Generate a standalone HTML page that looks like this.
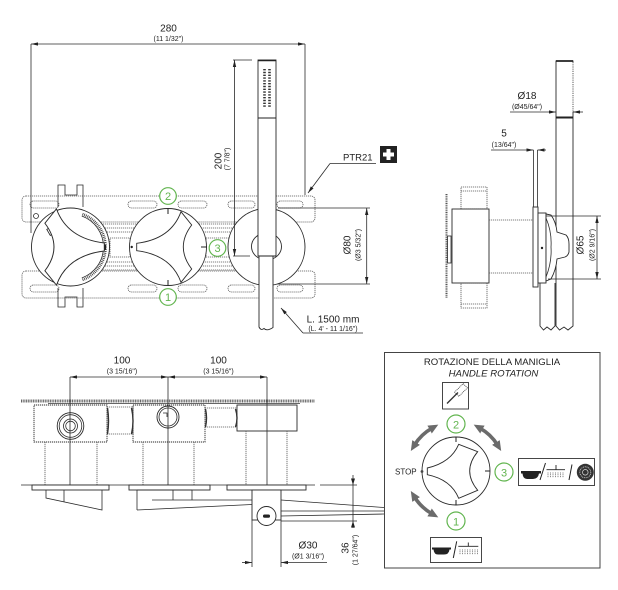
<!DOCTYPE html>
<html><head><meta charset="utf-8">
<style>
html,body{margin:0;padding:0;background:#fff;}
svg{display:block;}
text{font-family:"Liberation Sans",sans-serif;fill:#222;}
.s{fill:none;stroke:#2a2a2a;stroke-width:0.8}
.d{fill:none;stroke:#555;stroke-width:0.8;stroke-dasharray:1.2 0.8}
.w{fill:#fff;stroke:#2a2a2a;stroke-width:0.9}
.gc{fill:#fff;stroke:#62b54f;stroke-width:1.2}
.gt{fill:#62b54f;font-size:11px;text-anchor:middle}
.big{font-size:10px;text-anchor:middle}
.sm{font-size:7px;text-anchor:middle}
</style></head><body>
<svg width="618" height="590" viewBox="0 0 618 590" xmlns="http://www.w3.org/2000/svg">
<defs>
 <marker id="a" viewBox="0 0 10 6" refX="10" refY="3" markerWidth="7" markerHeight="4.2" orient="auto-start-reverse" markerUnits="userSpaceOnUse"><path d="M0,0.6 L10,3 L0,5.4z" fill="#222"/></marker>
 <marker id="g" viewBox="0 0 10 10" refX="3" refY="5" markerWidth="10" markerHeight="10" orient="auto-start-reverse" markerUnits="userSpaceOnUse"><path d="M0,0.5 L10,5 L0,9.5z" fill="#6b6b6b"/></marker>
</defs>

<!-- ============ FRONT VIEW ============ -->
<!-- 280 dim -->
<line x1="31" y1="44" x2="305" y2="44" class="s" marker-start="url(#a)" marker-end="url(#a)"/>
<line x1="31" y1="44" x2="31" y2="233" class="s"/>
<line x1="305" y1="44" x2="305" y2="195" class="s"/>
<text x="168.5" y="31.5" class="big">280</text>
<text x="168.5" y="41" class="sm">(11 1/32")</text>

<!-- plates -->
<rect x="22" y="196" width="293" height="26" rx="4" class="d"/>
<rect x="22" y="271" width="293" height="27" rx="4" class="d"/>
<g class="d">
<rect x="30" y="201" width="29" height="7" rx="3.5"/>
<rect x="128" y="201" width="29" height="7" rx="3.5"/>
<rect x="178" y="201" width="29" height="7" rx="3.5"/>
<rect x="228" y="201" width="27" height="7" rx="3.5"/>
<rect x="277" y="201" width="26" height="7" rx="3.5"/>
<rect x="30" y="285" width="29" height="7" rx="3.5"/>
<rect x="128" y="285" width="29" height="7" rx="3.5"/>
<rect x="178" y="285" width="29" height="7" rx="3.5"/>
<rect x="228" y="285" width="27" height="7" rx="3.5"/>
<rect x="277" y="285" width="26" height="7" rx="3.5"/>
<line x1="95" y1="224" x2="250" y2="224"/>
<line x1="95" y1="228" x2="250" y2="228"/>
<line x1="95" y1="232" x2="250" y2="232"/>
<line x1="95" y1="262" x2="250" y2="262"/>
<line x1="95" y1="266" x2="250" y2="266"/>
<line x1="95" y1="270" x2="250" y2="270"/>
<rect x="110" y="238" width="20" height="19"/>
<rect x="206" y="238" width="25" height="19"/>
</g>
<circle cx="36" cy="216" r="2.5" class="s"/>
<!-- brackets -->
<path d="M58,207 V185 H65 V195 H77 V185 H83 V207" class="s"/>
<path d="M58,288 V307 H65 V297 H77 V307 H83 V288" class="s"/>

<!-- circles -->
<circle cx="70.5" cy="247" r="39" class="w"/>
<circle cx="168" cy="247" r="38.5" class="w"/>
<circle cx="266.5" cy="247" r="38.5" class="w"/>

<!-- left handle scale -->
<path d="M82.5,214.1 A35,35 0 0 1 82.5,279.9" fill="none" stroke="#333" stroke-width="2.6" stroke-dasharray="0.8 1"/>
<path d="M81.8,216 A33,33 0 0 1 81.8,278" class="s" stroke-width="0.5"/>
<rect x="102" y="245" width="4" height="5" fill="#222"/>
<rect x="48" y="228" width="4" height="7" fill="none" stroke="#222" stroke-width="0.8" transform="rotate(-30 50 231)"/>
<!-- handles -->
<path transform="translate(168,247)" d="M-31.3,-3.7 Q3.15,-7.9 13,-35.3 L23.7,-22 Q6.9,0 23.7,22 L13,35.3 Q3.15,7.9 -31.3,3.7 Z" class="w" stroke-width="0.8"/>
<path transform="translate(70.5,247) rotate(180) scale(1.08)" d="M-31.3,-3.7 Q3.15,-7.9 13,-35.3 L23.7,-22 Q6.9,0 23.7,22 L13,35.3 Q3.15,7.9 -31.3,3.7 Z" class="w" stroke-width="0.8"/>
<!-- middle ticks -->
<g stroke="#222" stroke-width="1">
<line x1="168" y1="209" x2="168" y2="214"/>
<line x1="168" y1="280" x2="168" y2="285"/>
<line x1="201" y1="247" x2="207" y2="247"/>
</g>
<circle cx="131.7" cy="247" r="1.2" fill="#222"/>

<!-- green numbers front -->
<circle cx="168" cy="196" r="8.3" class="gc"/><text x="168" y="200" class="gt">2</text>
<circle cx="168" cy="297" r="8.3" class="gc"/><text x="168" y="301" class="gt">1</text>
<circle cx="217.5" cy="248" r="8.3" class="gc"/><text x="217.5" y="252" class="gt">3</text>

<!-- holder -->
<ellipse cx="266.5" cy="246.5" rx="15" ry="13.5" class="w"/>
<!-- hand shower -->
<rect x="258" y="60" width="18" height="196" class="w"/>
<line x1="258" y1="60.5" x2="276" y2="60.5" stroke="#222" stroke-width="1.6"/>
<line x1="258" y1="118" x2="276" y2="118" stroke="#222" stroke-width="1"/>
<g fill="none" stroke="#333" stroke-width="0.7">
<path d="M264.5,69 v38 M269.5,69 v38" stroke-dasharray="1.4 1.4" stroke-width="2.6"/>
</g>
<path d="M259,256 V327 q2,4 5,1.5 q3,3 9,-1 V256 Z" class="w"/>
<line x1="258" y1="256" x2="276" y2="256" stroke="#222" stroke-width="0.9"/>

<!-- 200 dim -->
<line x1="234.5" y1="60" x2="234.5" y2="256" class="s" marker-start="url(#a)" marker-end="url(#a)"/>
<line x1="233" y1="60" x2="252" y2="60" class="s"/>
<line x1="233" y1="256" x2="250" y2="256" class="s"/>
<text x="221.5" y="161" class="big" transform="rotate(-90 221.5 161)">200</text>
<text x="229.5" y="159" class="sm" transform="rotate(-90 229.5 159)">(7 7/8")</text>

<!-- PTR21 -->
<text x="343" y="160.5" font-size="9.5">PTR21</text>
<rect x="380" y="146" width="17" height="17" fill="#222"/>
<rect x="386.5" y="149" width="4" height="11" fill="#fff"/>
<rect x="383" y="152.5" width="11" height="4" fill="#fff"/>
<line x1="330" y1="163.5" x2="376" y2="163.5" class="s"/>
<line x1="330" y1="163.5" x2="308" y2="193" class="s" marker-end="url(#a)"/>

<!-- Ø80 dim -->
<line x1="278" y1="208" x2="370" y2="208" class="s"/>
<line x1="277" y1="284" x2="370" y2="284" class="s"/>
<line x1="366.7" y1="208" x2="366.7" y2="284" class="s" marker-start="url(#a)" marker-end="url(#a)"/>
<text x="350.5" y="245" class="big" transform="rotate(-90 350.5 245)">Ø80</text>
<text x="360.5" y="245" class="sm" transform="rotate(-90 360.5 245)">(Ø3 5/32")</text>

<!-- L. 1500 -->
<line x1="303" y1="333" x2="281" y2="308" class="s" marker-end="url(#a)"/>
<line x1="303" y1="333" x2="363" y2="333" class="s"/>
<text x="333" y="322.5" class="big">L. 1500 mm</text>
<text x="333" y="331" class="sm">(L. 4' - 11 1/16")</text>

<!-- ============ SIDE VIEW ============ -->
<line x1="446.5" y1="194" x2="446.5" y2="298" stroke="#555" stroke-width="2" stroke-dasharray="1 0.8"/>
<rect x="447.5" y="236" width="3.5" height="27" class="s"/>
<rect x="461" y="187" width="26" height="22" class="d"/>
<line x1="461" y1="191" x2="487" y2="191" class="d"/>
<rect x="461" y="283" width="26" height="25" class="d"/>
<line x1="461" y1="304" x2="487" y2="304" class="d"/>
<rect x="452" y="209" width="37" height="74" class="w" stroke-width="0.8"/>
<line x1="489" y1="220" x2="533" y2="220" class="d"/>
<line x1="489" y1="273" x2="533" y2="273" class="d"/>
<!-- hoses -->
<path d="M540,283 V326 L543.5,330 L547,327 L551,330 L555,326 V283" class="w" stroke-width="0.8"/>
<path d="M556,61 V326 L559.5,330 L564,327 L568,330 L573,326 V61 Z" class="w" stroke-width="0.8"/>
<line x1="556" y1="61" x2="573" y2="61" stroke="#222" stroke-width="1.8"/>
<line x1="556" y1="117.5" x2="573" y2="117.5" stroke="#222" stroke-width="2"/>
<line x1="573" y1="62" x2="573" y2="112" stroke="#fff" stroke-width="1"/>
<line x1="573" y1="62" x2="573" y2="112" stroke="#333" stroke-width="0.8" stroke-dasharray="1.2 1"/>
<!-- plate, escutcheon, handle -->
<rect x="533" y="207" width="5" height="80" class="w" stroke-width="0.8"/>
<rect x="538" y="213" width="8" height="70" class="w" stroke-width="0.8"/>
<path d="M546,214 L551,215 Q556,222 557,232 L566,235 Q569,238 569,244 L569,252 Q568,256 565,257 L557,259 Q556,270 551,279 L546,281 Z" class="w" stroke-width="0.8"/>
<path d="M546,218 Q552,232 551,247 Q552,262 546,277" class="s" stroke-width="0.6"/>
<circle cx="542" cy="248" r="1.2" fill="#222"/>
<!-- 5 dim -->
<line x1="533.5" y1="150" x2="533.5" y2="207" class="s"/>
<line x1="537.5" y1="150" x2="537.5" y2="207" class="s"/>
<line x1="491" y1="150" x2="533.5" y2="150" class="s" marker-end="url(#a)"/>
<line x1="546" y1="150" x2="537.5" y2="150" class="s" marker-end="url(#a)"/>
<text x="504" y="136.5" class="big">5</text>
<text x="504" y="147" class="sm">(13/64")</text>
<!-- Ø18 dim -->
<line x1="510" y1="112" x2="556" y2="112" class="s" marker-end="url(#a)"/>
<line x1="583" y1="112" x2="573" y2="112" class="s" marker-end="url(#a)"/>
<text x="527" y="99" class="big">Ø18</text>
<text x="527" y="109" class="sm">(Ø45/64")</text>
<!-- Ø65 dim -->
<line x1="546" y1="216" x2="601" y2="216" class="s"/>
<line x1="548" y1="279" x2="601" y2="279" class="s"/>
<line x1="597" y1="216" x2="597" y2="279" class="s" marker-start="url(#a)" marker-end="url(#a)"/>
<text x="583.5" y="245" class="big" transform="rotate(-90 583.5 245)">Ø65</text>
<text x="594.5" y="245" class="sm" transform="rotate(-90 594.5 245)">(Ø2 9/16")</text>

<!-- ============ TOP VIEW ============ -->
<line x1="70" y1="377" x2="168" y2="377" class="s" marker-start="url(#a)" marker-end="url(#a)"/>
<line x1="168" y1="377" x2="267" y2="377" class="s" marker-start="url(#a)" marker-end="url(#a)"/>
<text x="122" y="363.5" class="big">100</text>
<text x="122" y="373.5" class="sm">(3 15/16")</text>
<text x="218.5" y="363.5" class="big">100</text>
<text x="218.5" y="373.5" class="sm">(3 15/16")</text>

<line x1="21" y1="401" x2="315" y2="401" stroke="#666" stroke-width="3" stroke-dasharray="1 0.7"/>
<line x1="48" y1="403.5" x2="300" y2="403.5" stroke="#333" stroke-width="0.8"/>

<rect x="34" y="405" width="73" height="37" class="w" stroke="#444" stroke-dasharray="1.2 0.8" stroke-width="0.8"/>
<rect x="133" y="405" width="72" height="37" class="w" stroke="#444" stroke-dasharray="1.2 0.8" stroke-width="0.8"/>
<rect x="237" y="405" width="60" height="26" class="w" stroke-width="0.8"/>
<rect x="107" y="407" width="26" height="27" class="d"/>
<rect x="205" y="408" width="32" height="19" class="d"/>
<path d="M107.5,408 q2,13 0,26 M131.5,408 q3,13 0,26 M205.5,409 q2,9 0,18 M235.5,409 q3,9 0,18" fill="none" stroke="#333" stroke-width="1.4"/>
<g class="d">
<line x1="45" y1="442" x2="45" y2="485"/><line x1="97" y1="442" x2="97" y2="485"/>
<line x1="143" y1="442" x2="143" y2="485"/><line x1="194" y1="442" x2="194" y2="485"/>
<line x1="246" y1="431" x2="246" y2="485"/><line x1="287" y1="431" x2="287" y2="485"/>
</g>
<g class="s">
<line x1="70" y1="377" x2="70" y2="485"/>
<line x1="168" y1="377" x2="168" y2="485"/>
<line x1="267" y1="377" x2="267" y2="490"/>
<line x1="21" y1="485" x2="315" y2="485"/>
</g>
<!-- knobs -->
<circle cx="70.5" cy="426" r="13.3" class="w"/>
<circle cx="70.5" cy="426" r="11.3" class="s"/>
<circle cx="70.5" cy="426" r="7" class="s" stroke-width="1.1"/>
<circle cx="70.5" cy="426" r="4.8" class="s"/>
<circle cx="168" cy="417" r="11" class="w" stroke-width="1.1"/>
<circle cx="168" cy="417" r="9" class="s"/>
<path d="M163,413 h4 v4" class="s"/>
<line x1="70" y1="412" x2="70" y2="440" class="s"/>
<line x1="168" y1="405" x2="168" y2="429" class="s"/>
<!-- plates -->
<rect x="32" y="485" width="77" height="5" class="w" stroke-width="0.8"/>
<rect x="129" y="485" width="81" height="5" class="w" stroke-width="0.8"/>
<rect x="227" y="485" width="79" height="5" class="w" stroke-width="0.8"/>
<!-- handles -->
<path d="M46,490 V498 L102,510 V490" class="s"/>
<line x1="64" y1="490" x2="64" y2="502" class="s"/>
<path d="M137,490 V510 M192,490 V500 M137,490 H192" class="s"/>
<line x1="173" y1="490" x2="173" y2="500" class="s"/>
<line x1="137" y1="510" x2="252" y2="504.5" class="s"/>
<line x1="152" y1="500" x2="252" y2="500" class="s"/>
<line x1="281" y1="500" x2="384" y2="507.5" class="s"/>
<line x1="281" y1="511" x2="384" y2="511" class="s"/>
<line x1="281" y1="516" x2="384" y2="514" class="s"/>
<!-- holder -->
<rect x="252" y="490" width="29" height="30" class="w" stroke-width="0.8"/>
<circle cx="266.5" cy="516" r="9.5" class="w" stroke-width="1.3"/>
<rect x="263" y="514.5" width="7" height="3.2" rx="1.5" fill="#222"/>
<!-- Ø30 -->
<line x1="252" y1="520" x2="252" y2="567" class="s"/>
<line x1="281" y1="520" x2="281" y2="567" class="s"/>
<line x1="242" y1="562.5" x2="252" y2="562.5" class="s" marker-end="url(#a)"/>
<line x1="327" y1="562.5" x2="281" y2="562.5" class="s" marker-end="url(#a)"/>
<text x="308" y="548.5" class="big">Ø30</text>
<text x="308" y="558.5" class="sm">(Ø1 3/16")</text>
<!-- 36 -->
<line x1="320" y1="485" x2="357" y2="485" class="s"/>
<line x1="281" y1="521" x2="357" y2="521" class="s"/>
<line x1="353" y1="475" x2="353" y2="528" class="s"/>
<path d="M353,485 l-2,-6.5 h4 z M353,521 l-2,6.5 h4 z" fill="#222"/>
<text x="348.5" y="548" class="big" transform="rotate(-90 348.5 548)">36</text>
<text x="357.5" y="550" class="sm" transform="rotate(-90 357.5 550)">(1 27/64")</text>

<!-- ============ ROTATION BOX ============ -->
<rect x="384.5" y="352.5" width="215.5" height="215.5" fill="none" stroke="#444" stroke-width="1"/>
<text x="492" y="365" font-size="9.6" text-anchor="middle">ROTAZIONE DELLA MANIGLIA</text>
<text x="493.5" y="376.7" font-size="9.6" text-anchor="middle" font-style="italic">HANDLE ROTATION</text>

<!-- shower icon -->
<rect x="442.5" y="382.5" width="26" height="26.5" fill="#fff" stroke="#333" stroke-width="0.9"/>
<line x1="447" y1="403.5" x2="458" y2="392.5" stroke="#333" stroke-width="1.3"/>
<rect x="-3" y="-6" width="6" height="12" transform="translate(461,390) rotate(45)" fill="none" stroke="#333" stroke-width="0.8" stroke-dasharray="1 0.8"/>

<!-- arrows -->
<g fill="none" stroke="#6b6b6b" stroke-width="3.6" marker-start="url(#g)" marker-end="url(#g)">
<path d="M414.5,445 A49,49 0 0 1 432.2,428.1"/>
<path d="M479.8,428.1 A49,49 0 0 1 497.5,445"/>
<path d="M432.2,513.9 A49,49 0 0 1 414.5,497"/>
</g>

<circle cx="456" cy="471" r="34" class="w"/>
<g stroke="#222" stroke-width="1">
<line x1="456" y1="437" x2="456" y2="442"/>
<line x1="456" y1="500" x2="456" y2="505"/>
<line x1="485" y1="471" x2="490" y2="471"/>
</g>
<path transform="translate(456,471)" d="M-28.7,-3 Q-5,-8.5 2.7,-26.7 L21.7,-19.3 Q5.7,0 21.7,19.3 L2.7,27.3 Q-5,8.5 -28.7,3.7 Z" class="w" stroke-width="0.8"/>
<circle cx="422" cy="471.5" r="1.4" fill="#444"/>
<text x="395" y="474.7" font-size="8">STOP</text>

<circle cx="456" cy="424" r="9" class="gc"/><text x="456" y="428.5" class="gt" font-size="12">2</text>
<circle cx="504" cy="472" r="9" class="gc"/><text x="504" y="476.5" class="gt" font-size="12">3</text>
<circle cx="456" cy="521" r="9" class="gc"/><text x="456" y="525.5" class="gt" font-size="12">1</text>

<!-- right icon -->
<rect x="518.5" y="458.5" width="76" height="27" fill="#fff" stroke="#333" stroke-width="0.9"/>
<path d="M521,471 H541 V473.5 H539 Q538,479 533,479 H527 Q523,479 522.5,473.5 H521 Z" fill="#222"/>
<line x1="540" y1="480" x2="545.5" y2="463" stroke="#222" stroke-width="1"/>
<line x1="546.5" y1="469.7" x2="565" y2="469.7" stroke="#222" stroke-width="0.9"/>
<line x1="556" y1="465" x2="556" y2="469.7" stroke="#222" stroke-width="0.9"/>
<path d="M548,472.5 v5 M550.5,472.5 v5 M553,472.5 v5 M555.5,472.5 v5 M558,472.5 v5 M560.5,472.5 v5 M563,472.5 v5" stroke="#444" stroke-width="0.7" stroke-dasharray="1 0.8"/>
<line x1="569" y1="480" x2="572" y2="464.5" stroke="#222" stroke-width="1"/>
<circle cx="585.3" cy="472.3" r="8.5" fill="#333"/>
<circle cx="585.3" cy="472.3" r="5.5" fill="none" stroke="#ddd" stroke-width="0.8" stroke-dasharray="1 0.8"/>
<circle cx="585.3" cy="472.3" r="2.8" fill="none" stroke="#ddd" stroke-width="0.7"/>

<!-- bottom icon -->
<rect x="430.5" y="537.5" width="51" height="25" fill="#fff" stroke="#333" stroke-width="0.9"/>
<path d="M432,547.5 H451 V549.5 H449.5 Q449,554.5 444,554.5 H438 Q434,554.5 433.5,549.5 H432 Z" fill="#222"/>
<line x1="453.3" y1="558" x2="456.7" y2="541.3" stroke="#222" stroke-width="1"/>
<line x1="458.3" y1="546.3" x2="478.3" y2="546.3" stroke="#222" stroke-width="0.9"/>
<line x1="468.3" y1="542.5" x2="468.3" y2="546.3" stroke="#222" stroke-width="0.9"/>
<path d="M460,549.5 v5 M462.5,549.5 v5 M465,549.5 v5 M467.5,549.5 v5 M470,549.5 v5 M472.5,549.5 v5 M475,549.5 v5 M477.5,549.5 v5" stroke="#444" stroke-width="0.7" stroke-dasharray="1 0.8"/>
</svg>
</body></html>
